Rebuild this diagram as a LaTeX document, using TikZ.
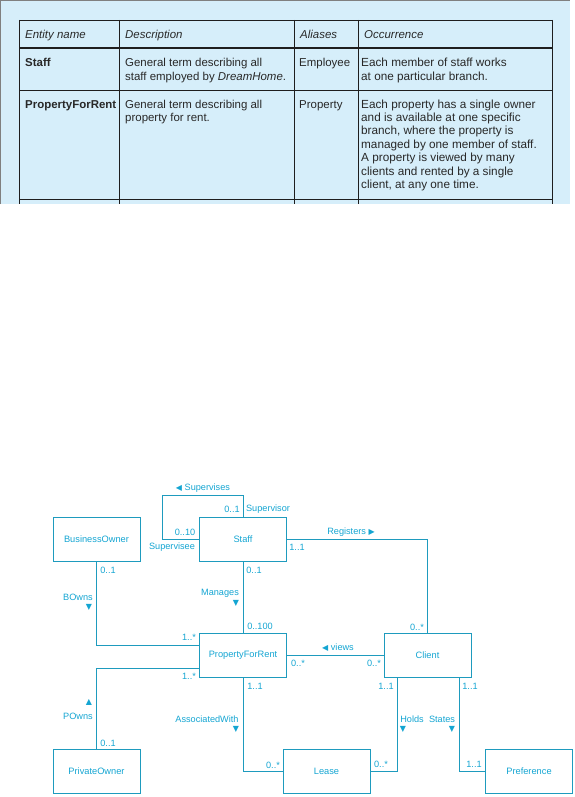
\documentclass[tikz,border=0pt]{standalone}
\usepackage{fontspec}
\setmainfont{Liberation Sans}
\newfontfamily\symfont{DejaVu Sans}
\definecolor{tablebg}{RGB}{214,238,250}
\definecolor{tableline}{RGB}{30,30,30}
\definecolor{tabletext}{RGB}{40,40,40}
\definecolor{cyanline}{RGB}{30,155,190}
\definecolor{cyantext}{RGB}{20,165,210}
\newcommand\trileft{{\symfont\fontsize{8}{8}\selectfont ◀}}
\newcommand\triright{{\symfont\fontsize{8}{8}\selectfont ▶}}
\newcommand\tridown{{\symfont\fontsize{8}{8}\selectfont ▼}}
\newcommand\triup{{\symfont\fontsize{8}{8}\selectfont ▲}}
\begin{document}
\begin{tikzpicture}[x=1bp,y=-1bp,
  tline/.style={draw=tableline, line width=0.8bp},
  tcell/.style={anchor=base west, inner sep=0, text=tabletext, font=\fontsize{11.5}{13.5}\selectfont},
  ent/.style={draw=cyanline, line width=0.9bp, minimum width=87bp, minimum height=44bp, inner sep=0, text=cyantext, font=\fontsize{9.3}{10}\selectfont},
  conn/.style={draw=cyanline, line width=0.9bp},
  lbl/.style={inner sep=0, text=cyantext, font=\fontsize{9.2}{10}\selectfont}]
\useasboundingbox (0,0) rectangle (575,797);
% ---------- table ----------
\fill[tablebg] (0,0) rectangle (570,204);
\draw[gray, line width=0.8bp] (0.5,204) -- (0.5,0.5) -- (570,0.5);
\draw[tline] (19,20) -- (552,20);
\draw[tline, line width=1.8bp] (19,48) -- (552,48);
\draw[tline] (19,90) -- (552,90);
\draw[tline] (19,199) -- (552,199);
\foreach \x in {19,119,294,358,552} \draw[tline] (\x,20) -- (\x,204);
\node[tcell] (h1) at (25,39) {\itshape Entity name};
\node[tcell] (h2) at (125,39) {\itshape Description};
\node[tcell] (h3) at (300,39) {\itshape Aliases};
\node[tcell] (h4) at (364,39) {\itshape Occurrence};
\node[tcell] (s1) at (25,67) {\bfseries Staff};
\node[tcell] (s2) at (125,67) {\parbox[t]{165bp}{\raggedright General term describing all\\staff employed by \textit{DreamHome}.}};
\node[tcell] (s3) at (299,67) {Employee};
\node[tcell, font=\fontsize{11.8}{13.5}\selectfont] (s4) at (361,67) {\parbox[t]{190bp}{\raggedright Each member of staff works\\at one particular branch.}};
\node[tcell] (p1) at (25,108) {\bfseries PropertyForRent};
\node[tcell] (p2) at (125,108) {\parbox[t]{165bp}{\raggedright General term describing all\\property for rent.}};
\node[tcell] (p3) at (299,108) {Property};
\node[tcell, font=\fontsize{11.8}{13.5}\selectfont] (p4) at (361,108) {\parbox[t]{190bp}{\raggedright Each property has a single owner\\and is available at one specific\\branch, where the property is\\managed by one member of staff.\\A property is viewed by many\\clients and rented by a single\\client, at any one time.}};
% ---------- diagram ----------
\node[ent] (BO) at (96.5,539) {BusinessOwner};
\node[ent] (ST) at (243,539) {Staff};
\node[ent] (PFR) at (243,655.5) {PropertyForRent};
\node[ent] (CL) at (427.5,655.5) {Client};
\node[ent] (PO) at (96.5,771.5) {PrivateOwner};
\node[ent] (LE) at (326.5,771.5) {Lease};
\node[ent] (PR) at (529,771.5) {Preference};
\coordinate (svTop) at (243,495);
\coordinate (svLeft) at (162,539);
% connectors
\draw[conn] (ST.north) -- (svTop) -| (svLeft) -- (ST.west);
\draw[conn] (ST.east) -| (CL.north);
\draw[conn] (BO.south) |- ([yshift=10.5bp]PFR.west);
\draw[conn] (PO.north) |- ([yshift=-12.5bp]PFR.west);
\draw[conn] (ST.south) -- (PFR.north);
\draw[conn] (PFR.east) -- (CL.west);
\draw[conn] (PFR.south) |- (LE.west);
\draw[conn] ([xshift=-30.5bp]CL.south) |- (LE.east);
\draw[conn] ([xshift=31.5bp]CL.south) |- (PR.west);
% labels
\node[lbl] (l1) at (203,488) {\trileft\ Supervises};
\node[lbl] (l2) at (232,509) {0..1};
\node[lbl] (l3) at (268,509) {Supervisor};
\node[lbl] (l4) at (185,532) {0..10};
\node[lbl] (l5) at (172,547) {Supervisee};
\node[lbl] (l6) at (351,532) {Registers \triright};
\node[lbl] (l7) at (297,547) {1..1};
\node[lbl] (l8) at (108,570) {0..1};
\node[lbl] (l9) at (78,597) {BOwns};
\node[lbl] (l10) at (89,607) {\tridown};
\node[lbl] (l11) at (254,570) {0..1};
\node[lbl] (l12) at (220,593) {Manages};
\node[lbl] (l13) at (236,603) {\tridown};
\node[lbl] (l14) at (260,626) {0..100};
\node[lbl] (l15) at (189,637) {1..*};
\node[lbl] (l16) at (189,676) {1..*};
\node[lbl] (l17) at (338,648) {\trileft\ views};
\node[lbl] (l18) at (298,663) {0..*};
\node[lbl] (l19) at (374,663) {0..*};
\node[lbl] (l20) at (417,627) {0..*};
\node[lbl] (l21) at (89,702) {\triup};
\node[lbl] (l22) at (78,716) {POwns};
\node[lbl] (l23) at (108,743) {0..1};
\node[lbl] (l24) at (255,686) {1..1};
\node[lbl] (l25) at (207,719) {AssociatedWith};
\node[lbl] (l26) at (236,729) {\tridown};
\node[lbl] (l27) at (273,765) {0..*};
\node[lbl] (l28) at (386,686) {1..1};
\node[lbl] (l29) at (412,719) {Holds};
\node[lbl] (l30) at (403,729) {\tridown};
\node[lbl] (l31) at (381,764) {0..*};
\node[lbl] (l32) at (470,686) {1..1};
\node[lbl] (l33) at (442,719) {States};
\node[lbl] (l34) at (452,729) {\tridown};
\node[lbl] (l35) at (474,764) {1..1};
\end{tikzpicture}
\end{document}
